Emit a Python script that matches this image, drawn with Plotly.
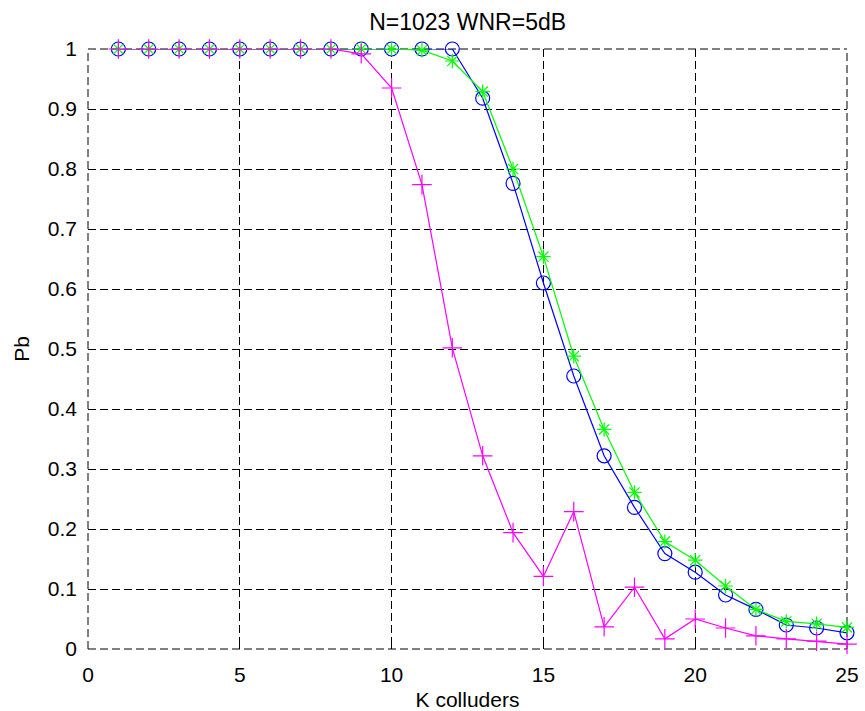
import plotly.graph_objects as go

k = list(range(1, 26))
pb_circle = [1.0, 1.0, 1.0, 1.0, 1.0, 1.0, 1.0, 1.0, 1.0, 1.0, 1.0, 1.0,
             0.918, 0.776, 0.610, 0.455, 0.322, 0.236, 0.159, 0.128, 0.090,
             0.066, 0.040, 0.035, 0.027]
pb_star = [1.0, 1.0, 1.0, 1.0, 1.0, 1.0, 1.0, 1.0, 1.0, 1.0, 0.998, 0.980,
           0.929, 0.800, 0.654, 0.488, 0.366, 0.261, 0.179, 0.148, 0.105,
           0.066, 0.046, 0.042, 0.036]
pb_plus = [1.0, 1.0, 1.0, 1.0, 1.0, 1.0, 1.0, 1.0, 0.992, 0.935, 0.774, 0.502,
           0.322, 0.194, 0.121, 0.229, 0.037, 0.103, 0.017, 0.050, 0.035,
           0.022, 0.017, 0.013, 0.008]

title_text = "N=1023 WNR=5dB"
x_title = "K colluders"
y_title = "Pb"

FONT = "Liberation Sans, Arial, sans-serif"
FS = 21
DASH = "8px,4px"

fig = go.Figure()
fig.add_trace(go.Scatter(
    x=k, y=pb_circle, mode="lines+markers", cliponaxis=False,
    line=dict(color="#0000ff", width=1.2),
    marker=dict(symbol="circle-open", size=14, color="#0000ff", line=dict(width=1.2)),
))
fig.add_trace(go.Scatter(
    x=k, y=pb_star, mode="lines+markers", cliponaxis=False,
    line=dict(color="#00ff00", width=1.2),
    marker=dict(symbol="asterisk-open", size=12, color="#00ff00", line=dict(width=1.2)),
))
fig.add_trace(go.Scatter(
    x=k, y=pb_plus, mode="lines+markers", cliponaxis=False,
    line=dict(color="#ff00ff", width=1.2),
    marker=dict(symbol="cross-thin-open", size=14, color="#ff00ff", line=dict(width=1.2)),
))

axis_common = dict(
    showgrid=True, gridcolor="#000000", griddash=DASH, gridwidth=1,
    zeroline=False, showline=False, automargin=False,
    ticks="inside", ticklen=6, tickcolor="#000000", tickwidth=1,
    tickfont=dict(family=FONT, size=FS, color="#000000"),
)

fig.update_xaxes(range=[0, 25], dtick=5, tick0=0, ticklabelstandoff=11,
                 title=dict(text=x_title, font=dict(family=FONT, size=FS, color="#000"), standoff=7),
                 **axis_common)
fig.update_yaxes(range=[0, 1], dtick=0.1, tick0=0, ticklabelstandoff=10,
                 title=dict(text=y_title, font=dict(family=FONT, size=FS, color="#000"), standoff=12),
                 **axis_common)

# dashed frame on the four plot edges (grid lines at the range limits)
for x0 in (0, 1):
    fig.add_shape(type="line", xref="x domain", yref="y domain", x0=x0, x1=x0, y0=0, y1=1,
                  line=dict(color="#000000", width=1, dash=DASH), layer="below")
for y0 in (0, 1):
    fig.add_shape(type="line", xref="x domain", yref="y domain", x0=0, x1=1, y0=y0, y1=y0,
                  line=dict(color="#000000", width=1, dash=DASH), layer="below")

fig.update_layout(
    width=865, height=711,
    margin=dict(l=88, r=18, t=49, b=62),
    paper_bgcolor="white", plot_bgcolor="white",
    showlegend=False,
    title=dict(text=title_text, x=0.5406, xanchor="center", y=1 - 22 / 711,
               yanchor="middle", yref="container",
               font=dict(family=FONT, size=23, color="#000")),
)

fig.write_html("out.html")
